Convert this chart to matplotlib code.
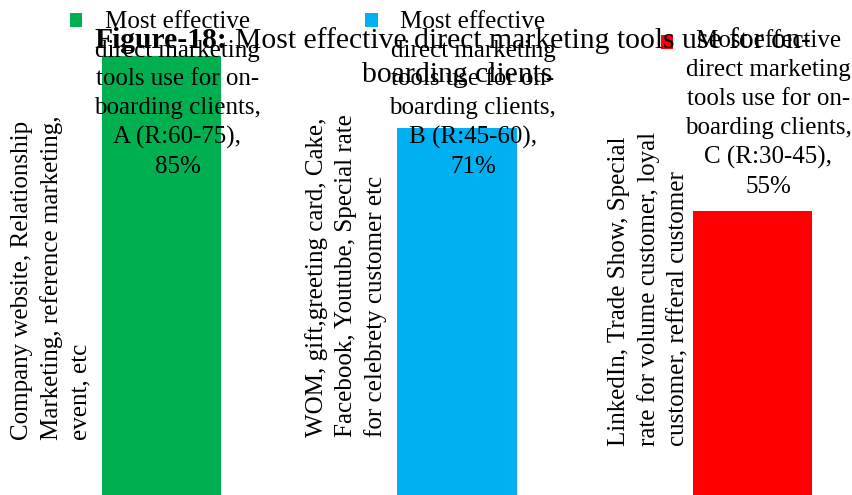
import matplotlib
matplotlib.use("Agg")
import matplotlib.pyplot as plt

plt.rcParams['font.family'] = ['Liberation Serif', 'DejaVu Serif']

# data
groups = ['A (R:60-75)', 'B (R:45-60)', 'C (R:30-45)']
values = [85, 71, 55]
categories = [
    'Company website, Relationship\nMarketing, reference marketing,\nevent, etc',
    'WOM, gift,greeting card, Cake,\nFacebook, Youtube, Special rate\nfor celebrety customer etc',
    'LinkedIn, Trade Show, Special\nrate for volume customer, loyal\ncustomer, refferal customer',
]
colors = ['#00B050', '#00B0F0', '#FF0000']
series_name = 'Most effective\ndirect marketing\ntools use for on-\nboarding clients,'

# layout (label placement as in the source chart)
label_y = [62.3, 62.3, 58.5]
legend_y = [91.4, 91.4, 87.1]
cat_dx = [-0.372, -0.374, -0.352]
cat_y = [10.65, 11.2, 9.5]

fig = plt.figure(figsize=(8.53, 4.95), dpi=100)
ax = fig.add_axes([0, 0, 1, 1])
ax.set_axis_off()

x = list(range(len(values)))
bars = ax.bar(x, values, width=0.403, color=colors)
ax.set_xlim(-0.5465, 2.340)
ax.set_ylim(0, 95.8)

for i, (bar, g, v, cat) in enumerate(zip(bars, groups, values, categories)):
    # category label, rotated, left of the bar
    ax.text(i + cat_dx[i], cat_y[i], cat, rotation=90, ha='center', va='bottom',
            multialignment='left', linespacing=1.4, fontsize=18)
    # data label
    ax.text(i + 0.054, label_y[i], f'{series_name}\n{g},\n{v}%',
            ha='center', va='baseline', multialignment='center',
            linespacing=1.4, fontsize=18)
    # legend marker
    leg = ax.legend([bar], [''], loc='center left',
                    bbox_to_anchor=(i - 0.31, legend_y[i]),
                    bbox_transform=ax.transData, frameon=False,
                    handlelength=0.5, handleheight=0.5, handletextpad=0,
                    borderpad=0, borderaxespad=0, fontsize=18)
    ax.add_artist(leg)

# title: bold prefix + regular text, two lines centered
fs = 21.3
r = fig.canvas.get_renderer()
tb = fig.text(0, 1 - 48.3 / 495, 'Figure-18:', weight='bold', fontsize=fs, va='baseline')
tr = fig.text(0, 1 - 48.3 / 495, 'Most effective direct marketing tools use for on-',
              fontsize=fs, va='baseline')
wb = tb.get_window_extent(r).width
wr = tr.get_window_extent(r).width
space = 0.25 * fs * 100 / 72
x0 = 452.5 - (wb + space + wr) / 2
tb.set_x(x0 / 853)
tr.set_x((x0 + wb + space) / 853)
fig.text(457.5 / 853, 1 - 81.7 / 495, 'boarding clients', fontsize=fs,
         ha='center', va='baseline')

fig.savefig('out.png', dpi=100)
